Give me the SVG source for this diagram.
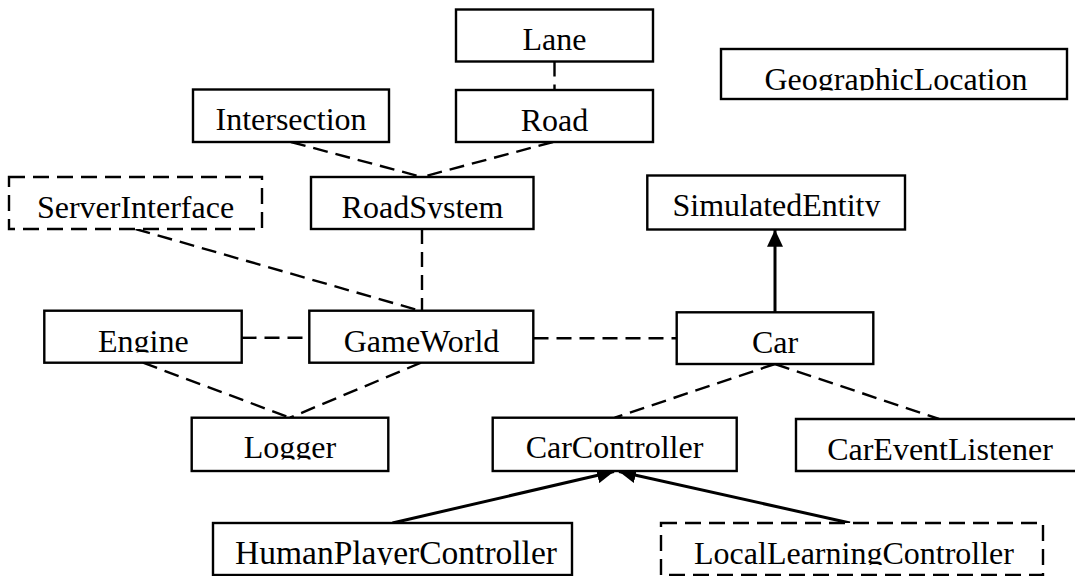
<svg xmlns="http://www.w3.org/2000/svg" width="1075" height="576" viewBox="0 0 1075 576">
<style>
  .box { fill: #ffffff; stroke: #000; stroke-width: 2.4; }
  .dbox { fill: #ffffff; stroke: #000; stroke-width: 2.4; stroke-dasharray: 16 8; }
  .lbl { font-family: "Liberation Serif", "Times New Roman", serif; font-size: 32px; fill: #000; text-anchor: middle; }
  .dep { fill: none; stroke: #000; stroke-width: 2.4; stroke-dasharray: 15 8; }
  .gen { fill: none; stroke: #000; stroke-width: 3; }
</style>
<defs>
  <marker id="head" markerUnits="userSpaceOnUse" markerWidth="18" markerHeight="16" refX="17" refY="8" orient="auto">
    <path d="M0,0 L17,8 L0,16 Z" fill="#000"/>
  </marker>
  <clipPath id="c-geo" clipPathUnits="userSpaceOnUse"><rect x="721" y="49" width="346" height="41.5"/></clipPath>
  <clipPath id="c-rs" clipPathUnits="userSpaceOnUse"><rect x="311" y="177" width="223" height="41.5"/></clipPath>
  <clipPath id="c-se" clipPathUnits="userSpaceOnUse"><rect x="647" y="175" width="258" height="41.5"/></clipPath>
  <clipPath id="c-eng" clipPathUnits="userSpaceOnUse"><rect x="44" y="311" width="198" height="41.5"/></clipPath>
  <clipPath id="c-log" clipPathUnits="userSpaceOnUse"><rect x="192" y="418" width="197" height="41.5"/></clipPath>
  <clipPath id="c-hpc" clipPathUnits="userSpaceOnUse"><rect x="213" y="523" width="359" height="42"/></clipPath>
  <clipPath id="c-llc" clipPathUnits="userSpaceOnUse"><rect x="661" y="523" width="382" height="42"/></clipPath>
</defs>

<g id="connectors">
  <line class="dep" x1="554.5" y1="61.5" x2="554.5" y2="90"/>
  <line class="dep" x1="291" y1="142" x2="422" y2="177"/>
  <line class="dep" x1="553" y1="142" x2="422" y2="177"/>
  <line class="dep" x1="135.5" y1="229" x2="421" y2="311"/>
  <line class="dep" x1="422" y1="229" x2="422" y2="311"/>
  <line class="dep" x1="241.5" y1="337.8" x2="309.5" y2="337.8"/>
  <line class="dep" x1="533.5" y1="338.2" x2="676.7" y2="338.2"/>
  <line class="dep" x1="143" y1="362.7" x2="290" y2="417.7"/>
  <line class="dep" x1="421" y1="362.7" x2="290" y2="417.7"/>
  <line class="dep" x1="775" y1="364" x2="614.7" y2="417.7"/>
  <line class="dep" x1="775" y1="364" x2="939" y2="419"/>
  <line class="gen" x1="775" y1="312.3" x2="775" y2="229.8" marker-end="url(#head)"/>
  <line class="gen" x1="392.5" y1="523" x2="614" y2="471.5" marker-end="url(#head)"/>
  <line class="gen" x1="850" y1="523" x2="619" y2="471.5" marker-end="url(#head)"/>
</g>

<g id="node-lane">
  <rect class="box" x="456" y="9.5" width="197" height="52"/>
  <text class="lbl" x="554.5" y="50">Lane</text>
</g>
<g id="node-road">
  <rect class="box" x="456" y="90" width="197" height="52"/>
  <text class="lbl" x="554.5" y="130.5">Road</text>
</g>
<g id="node-intersection">
  <rect class="box" x="193" y="89.5" width="196" height="52.5"/>
  <text class="lbl" x="291" y="130">Intersection</text>
</g>
<g id="node-geographiclocation">
  <rect class="box" x="721" y="49" width="346" height="50"/>
  <text class="lbl" x="896" y="89.5" clip-path="url(#c-geo)">GeographicLocation</text>
</g>
<g id="node-serverinterface">
  <rect class="dbox" x="9" y="177" width="253" height="52"/>
  <text class="lbl" x="135.5" y="217.5">ServerInterface</text>
</g>
<g id="node-roadsystem">
  <rect class="box" x="311" y="177" width="222.5" height="52"/>
  <text class="lbl" x="422.5" y="217.5" clip-path="url(#c-rs)">RoadSystem</text>
</g>
<g id="node-simulatedentity">
  <rect class="box" x="647.3" y="175.5" width="257.7" height="54"/>
  <text class="lbl" x="776.5" y="215.5" clip-path="url(#c-se)">SimulatedEntity</text>
</g>
<g id="node-engine">
  <rect class="box" x="44.3" y="310.7" width="197.4" height="52"/>
  <text class="lbl" x="143.3" y="351.5" clip-path="url(#c-eng)">Engine</text>
</g>
<g id="node-gameworld">
  <rect class="box" x="309.3" y="310.7" width="224" height="52"/>
  <text class="lbl" x="421.5" y="351.5">GameWorld</text>
</g>
<g id="node-car">
  <rect class="box" x="676.7" y="312.3" width="196.6" height="51.7"/>
  <text class="lbl" x="775" y="352.8">Car</text>
</g>
<g id="node-logger">
  <rect class="box" x="191.7" y="417.7" width="196.6" height="53.3"/>
  <text class="lbl" x="290" y="458.2" clip-path="url(#c-log)">Logger</text>
</g>
<g id="node-carcontroller">
  <rect class="box" x="492.7" y="417.7" width="244" height="53.3"/>
  <text class="lbl" x="614.5" y="458.2">CarController</text>
</g>
<g id="node-careventlistener">
  <path class="box" d="M1076,419 H796 V471 H1076"/>
  <text class="lbl" x="940" y="459.5">CarEventListener</text>
</g>
<g id="node-humanplayercontroller">
  <rect class="box" x="213" y="523" width="359" height="52"/>
  <text class="lbl" x="396" y="563.5" style="font-size:33.5px" clip-path="url(#c-hpc)">HumanPlayerController</text>
</g>
<g id="node-locallearningcontroller">
  <rect class="dbox" x="661" y="523" width="382" height="52"/>
  <text class="lbl" x="854" y="563.5" clip-path="url(#c-llc)">LocalLearningController</text>
</g>
</svg>
